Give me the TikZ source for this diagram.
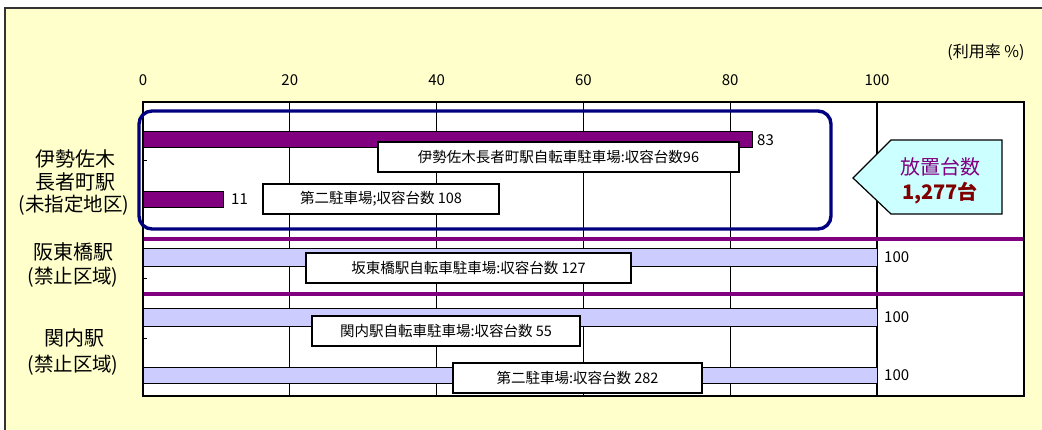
\documentclass[tikz,border=0pt]{standalone}
\usepackage{fontspec}
\setmainfont{Noto Sans CJK JP}
\definecolor{bgyellow}{HTML}{FFFFCC}
\definecolor{barpurple}{HTML}{800080}
\definecolor{barlav}{HTML}{CCCCFF}
\definecolor{navyline}{HTML}{000080}
\definecolor{callcyan}{HTML}{CCFFFF}
\definecolor{darkred}{HTML}{800000}
\tikzset{
  ticklab/.style={font=\fontsize{15}{17}\selectfont, inner sep=0pt},
  vallab/.style={font=\fontsize{15}{17}\selectfont, inner sep=0pt, anchor=west},
  catlab/.style={font=\fontsize{20}{22}\selectfont, inner sep=0pt},
  sublab/.style={font=\fontsize{19.5}{22}\selectfont, inner sep=0pt},
  boxlab/.style={draw=black, line width=1.4pt, fill=white, inner sep=0pt, font=\fontsize{14.5}{16}\selectfont},
  pbar/.style={draw=black, line width=1pt, fill=barpurple},
  lbar/.style={draw=black, line width=1pt, fill=barlav},
  grid/.style={draw=black, line width=1.3pt},
  sep/.style={draw=barpurple, line width=3.4pt},
}
\begin{document}
\begin{tikzpicture}[x=1pt,y=-1pt]
\useasboundingbox (0,0) rectangle (1042,429);
\clip (0,0) rectangle (1042,429);
% outer frame
\draw[fill=bgyellow, draw=black!80, line width=1.8pt] (5,8) rectangle (1060,450);
% plot area
\fill[white] (143,102) rectangle (1024,396);
% grid lines
\foreach \gx in {289.8,436.6,583.4,730.2,877} {\draw[grid] (\gx,102) -- (\gx,396);}
% category ticks
\foreach \ty in {160,278,338} {\draw[black, line width=1pt] (143,\ty) -- (147,\ty);}
% tick labels
\node[ticklab] (t0) at (143,80) {0};
\node[ticklab] (t20) at (289.8,80) {20};
\node[ticklab] (t40) at (436.6,80) {40};
\node[ticklab] (t60) at (583.4,80) {60};
\node[ticklab] (t80) at (730.2,80) {80};
\node[ticklab] (t100) at (877,80) {100};
\node[ticklab, font=\fontsize{16}{18}\selectfont] (unit) at (986,52) {(利用率 \%)};
% separators
\draw[sep] (143,239) -- (1025,239);
\draw[sep] (143,294) -- (1025,294);
% bars
\draw[pbar] (143,131) rectangle (752,147);
\draw[pbar] (143,191) rectangle (223.7,207);
\draw[lbar] (143,248) rectangle (877,266);
\draw[lbar] (143,308) rectangle (877,326);
\draw[lbar] (143,367) rectangle (877,383);
% plot border
\draw[black, line width=1.5pt] (143,102) rectangle (1024,396);
% value labels
\node[vallab] (v83) at (757,140) {83};
\node[vallab] (v11) at (231,199) {11};
\node[vallab] (v100a) at (884,257) {100};
\node[vallab] (v100b) at (884,317) {100};
\node[vallab] (v100c) at (884,375) {100};
% highlight rounded box
\draw[navyline, line width=3.4pt, rounded corners=13pt] (139,111) rectangle (831,229);
% label boxes
\node[boxlab, minimum width=361pt, minimum height=30pt] (b1) at (558.5,157) {伊勢佐木長者町駅自転車駐車場:収容台数96};
\node[boxlab, minimum width=236pt, minimum height=30pt] (b2) at (381,199) {第二駐車場;収容台数 108};
\node[boxlab, minimum width=325pt, minimum height=30pt] (b3) at (468.5,268) {坂東橋駅自転車駐車場:収容台数 127};
\node[boxlab, minimum width=268pt, minimum height=30pt] (b4) at (446,331) {関内駅自転車駐車場:収容台数 55};
\node[boxlab, minimum width=249pt, minimum height=30pt] (b5) at (577.5,378) {第二駐車場:収容台数 282};
% category labels
\node[catlab] (c1a) at (75,159) {伊勢佐木};
\node[catlab] (c1b) at (75,182) {長者町駅};
\node[sublab] (c1c) at (74,205) {(未指定地区)};
\node[catlab] (c2a) at (73,252) {阪東橋駅};
\node[sublab] (c2b) at (73,277) {(禁止区域)};
\node[catlab] (c3a) at (75,338) {関内駅};
\node[sublab] (c3b) at (73,365) {(禁止区域)};
% callout
\draw[fill=callcyan, draw=black, line width=1.2pt] (853,178) -- (891,140) -- (1002,140) -- (1002,214) -- (891,214) -- cycle;
\node[inner sep=0pt, text=barpurple, font=\fontsize{20}{22}\selectfont] (co1) at (940,167) {放置台数};
\node[inner sep=0pt, text=darkred, font=\fontsize{20}{22}\selectfont\bfseries] (co2) at (940,193) {1,277台};
\end{tikzpicture}
\end{document}
